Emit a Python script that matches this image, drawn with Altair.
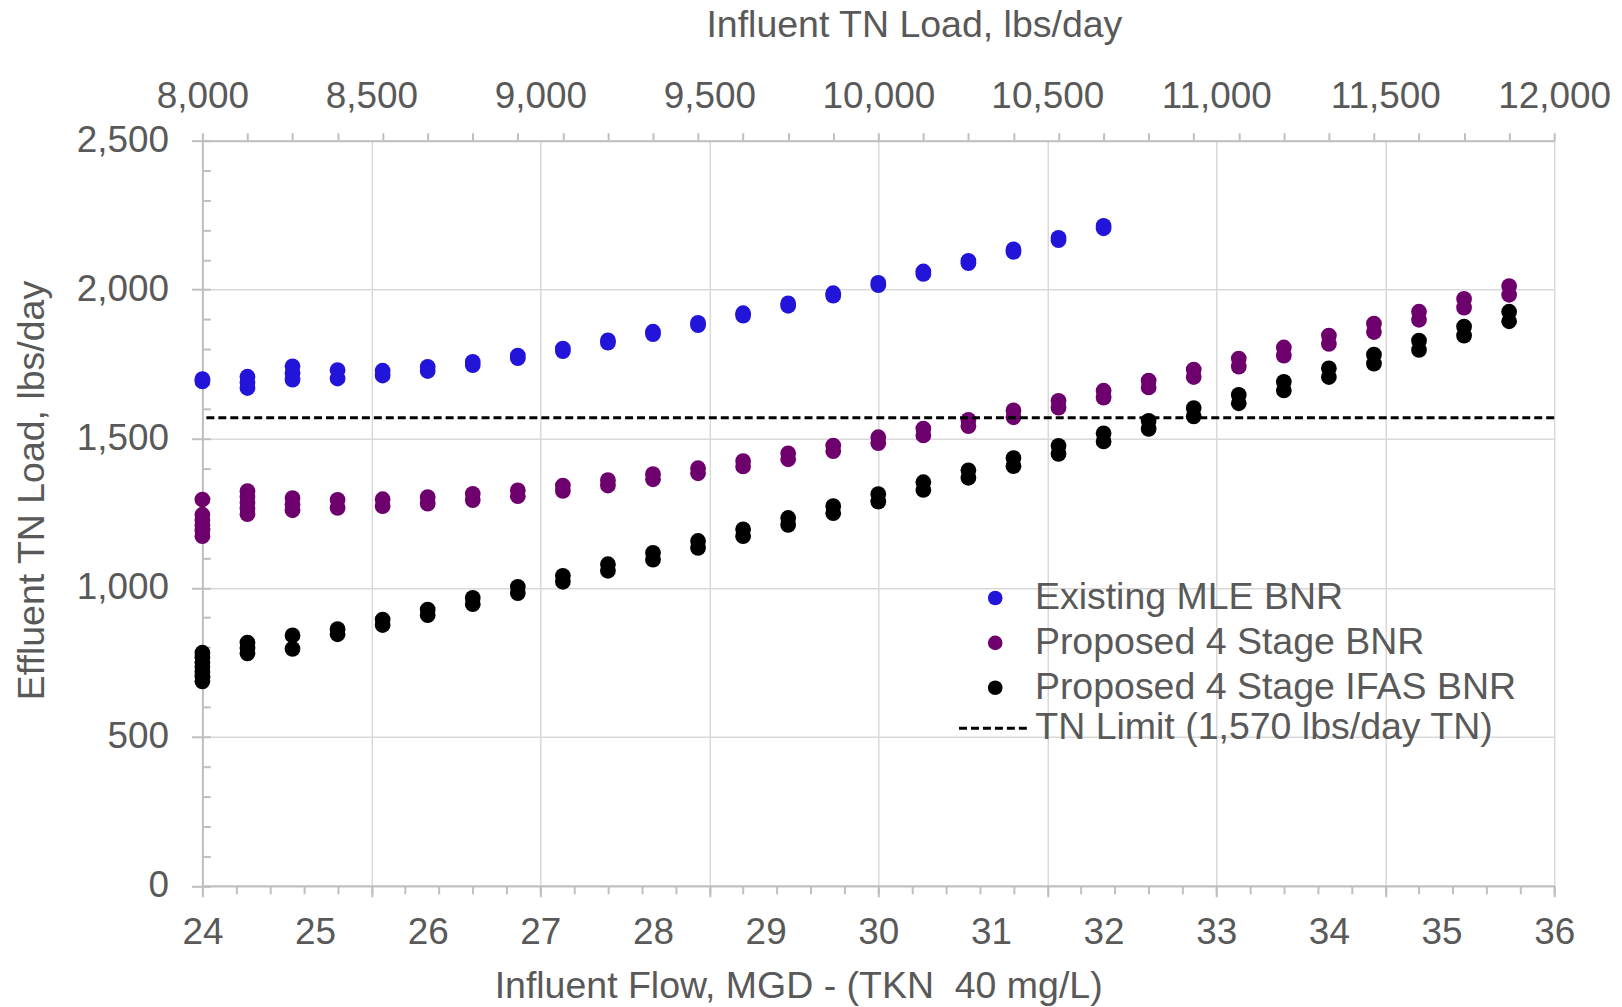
import altair as alt
import pandas as pd

FONT = "Liberation Sans, Arial, Helvetica, sans-serif"
TXT = "#595959"
GRID = "#d9d9d9"
AX = "#bfbfbf"
FS = 37
FS_T = 37.6

series_names = ["Existing MLE BNR", "Proposed 4 Stage BNR", "Proposed 4 Stage IFAS BNR"]
series_colors = ["#2214D8", "#6E006E", "#000000"]
limit_label = "TN Limit (1,570 lbs/day TN)"
limit_value = [1570]

# Existing MLE BNR (influent flow, MGD) with high / low effluent TN readings (lbs/day)
mle_flow = [24.0, 24.4, 24.8, 25.2, 25.6, 26.0, 26.4, 26.8, 27.2, 27.6, 28.0,
            28.4, 28.8, 29.2, 29.6, 30.0, 30.4, 30.8, 31.2, 31.6, 32.0]
mle_hi = [1700, 1708, 1743, 1730, 1728, 1741, 1758, 1779, 1802, 1830, 1859,
          1889, 1921, 1954, 1988, 2023, 2061, 2097, 2135, 2174, 2214]
mle_lo = [1692, 1670, 1698, 1702, 1712, 1727, 1747, 1770, 1794, 1822, 1851,
          1881, 1913, 1946, 1980, 2015, 2053, 2089, 2127, 2166, 2206]
mle_extra_flow = [24.4, 24.8]
mle_extra = [1689, 1720]

# Proposed 4 Stage BNR
bnr4_flow = [24.0, 24.4, 24.8, 25.2, 25.6, 26.0, 26.4, 26.8, 27.2, 27.6, 28.0,
             28.4, 28.8, 29.2, 29.6, 30.0, 30.4, 30.8, 31.2, 31.6, 32.0,
             32.4, 32.8, 33.2, 33.6, 34.0, 34.4, 34.8, 35.2, 35.6]
bnr4_hi = [1296, 1324, 1301, 1295, 1297, 1304, 1315, 1327, 1343, 1361, 1381,
           1401, 1425, 1451, 1477, 1505, 1534, 1563, 1595, 1627, 1661,
           1695, 1732, 1769, 1806, 1846, 1886, 1926, 1969, 2012]
bnr4_lo = [1173, 1247, 1260, 1268, 1274, 1282, 1294, 1307, 1325, 1343, 1364,
           1384, 1407, 1431, 1458, 1485, 1511, 1542, 1572, 1604, 1638,
           1672, 1707, 1742, 1779, 1818, 1858, 1899, 1940, 1983]
bnr4_extra_flow = [24.0, 24.0, 24.0, 24.0, 24.4, 24.4, 24.4, 24.8]
bnr4_extra = [1245, 1227, 1210, 1192, 1305, 1285, 1266, 1280]

# Proposed 4 Stage IFAS BNR
ifas_flow = bnr4_flow
ifas_hi = [782, 816, 840, 861, 893, 927, 966, 1003, 1040, 1079, 1117,
           1157, 1196, 1234, 1274, 1314, 1354, 1394, 1435, 1476, 1518,
           1560, 1603, 1647, 1691, 1736, 1782, 1829, 1876, 1926]
ifas_lo = [686, 780, 795, 844, 875, 908, 945, 982, 1020, 1057, 1094,
           1134, 1173, 1211, 1250, 1289, 1328, 1369, 1408, 1449, 1491,
           1533, 1575, 1619, 1662, 1707, 1752, 1798, 1846, 1894]
ifas_extra_flow = [24.0, 24.0, 24.0, 24.0, 24.0, 24.4]
ifas_extra = [766, 750, 734, 718, 702, 798]

# axis tick / label values
bottom_labels = [24, 25, 26, 27, 28, 29, 30, 31, 32, 33, 34, 35, 36]
top_labels = [8000, 8500, 9000, 9500, 10000, 10500, 11000, 11500, 12000]
top_tick_flows = [round(24 + 0.4 * i, 1) for i in range(31)]
bottom_minor_loads = list(range(8000, 12001, 100))
y_major = [0, 500, 1000, 1500, 2000, 2500]
y_minor = list(range(0, 2501, 100))

x_title = "Influent Flow, MGD - (TKN\u00a0 40 mg/L)"
top_title = "Influent TN Load, lbs/day"
y_title = "Effluent TN Load, lbs/day"

rows = []
for name, fl, hi, lo, ef, ev in [
        (series_names[0], mle_flow, mle_hi, mle_lo, mle_extra_flow, mle_extra),
        (series_names[1], bnr4_flow, bnr4_hi, bnr4_lo, bnr4_extra_flow, bnr4_extra),
        (series_names[2], ifas_flow, ifas_hi, ifas_lo, ifas_extra_flow, ifas_extra)]:
    for f, h, l in zip(fl, hi, lo):
        rows.append({"series": name, "flow": f, "tn": h})
        rows.append({"series": name, "flow": f, "tn": l})
    for f, v in zip(ef, ev):
        rows.append({"series": name, "flow": f, "tn": v})
df = pd.DataFrame(rows)

W, H = 1356, 747.5

def yscale():
    return alt.Scale(domain=[0, 2500], nice=False, zero=True)

def flowscale():
    return alt.Scale(domain=[24, 36], nice=False, zero=False)

def loadscale():
    return alt.Scale(domain=[8000, 12000], nice=False, zero=False)

points = alt.Chart(df).mark_circle(size=250, opacity=1).encode(
    x=alt.X("flow:Q", scale=flowscale(), axis=alt.Axis(
        orient="bottom", values=bottom_labels, format="d", ticks=False, tickSize=0,
        domain=False, grid=False,
        labelBaseline="alphabetic", labelPadding=58, labelFlush=False, labelOverlap=False,
        title=x_title, titleX=597.6, titleY=112, titleBaseline="alphabetic", titleAlign="center")),
    y=alt.Y("tn:Q", scale=yscale(), axis=alt.Axis(
        orient="left", values=y_major, format=",.0f", tickSize=11, domain=True, grid=True,
        labelPadding=23, labelOverlap=False,
        title=y_title, titleX=-159, titleY=350.5, titleAngle=270,
        titleBaseline="alphabetic", titleAlign="center")),
    color=alt.Color("series:N", scale=alt.Scale(domain=series_names, range=series_colors),
                    legend=alt.Legend(title=None, orient="none", legendX=776.5, legendY=440,
                                      padding=0, symbolType="circle", symbolSize=215,
                                      symbolStrokeWidth=0, symbolOpacity=1, labelOffset=21,
                                      rowPadding=6, labelLimit=1000)),
)

top_lab = alt.Chart(pd.DataFrame({"load": top_labels})).mark_point(opacity=0).encode(
    x=alt.X("load:Q", scale=loadscale(), axis=alt.Axis(
        orient="top", values=top_labels, format=",.0f", ticks=False, tickSize=0, domain=False,
        grid=True, labelBaseline="alphabetic", labelPadding=33.5, labelFlush=False,
        labelOverlap=False, title=top_title, titleX=713.7, titleY=-104,
        titleBaseline="alphabetic", titleAlign="center"))
)

top_ticks = alt.Chart(pd.DataFrame({"flow": top_tick_flows})).mark_point(opacity=0).encode(
    x=alt.X("flow:Q", scale=flowscale(), axis=alt.Axis(
        orient="top", values=top_tick_flows, labels=False, ticks=True, tickSize=8,
        domain=True, grid=False, title=None))
)

bot_minor = alt.Chart(pd.DataFrame({"load": bottom_minor_loads})).mark_point(opacity=0).encode(
    x=alt.X("load:Q", scale=loadscale(), axis=alt.Axis(
        orient="bottom", values=bottom_minor_loads, labels=False, ticks=True, tickSize=8,
        domain=True, grid=False, title=None))
)

bot_major = alt.Chart(pd.DataFrame({"load": top_labels})).mark_point(opacity=0).encode(
    x=alt.X("load:Q", scale=loadscale(), axis=alt.Axis(
        orient="bottom", values=top_labels, labels=False, ticks=True, tickSize=11,
        domain=False, grid=False, title=None))
)

y_minor_ticks = alt.Chart(pd.DataFrame({"tn": y_minor})).mark_point(opacity=0).encode(
    y=alt.Y("tn:Q", scale=yscale(), axis=alt.Axis(
        orient="right", offset=-W, values=y_minor, labels=False, ticks=True, tickSize=8,
        domain=False, grid=False, title=None)),
    x=alt.value(0),
)

limit = alt.Chart(pd.DataFrame({"tn": limit_value, "label": [limit_label]})).mark_rule(
    strokeWidth=3, color="black").encode(
    y=alt.Y("tn:Q", scale=yscale(), axis=None),
    strokeDash=alt.StrokeDash("label:N", scale=alt.Scale(domain=[limit_label], range=[[8, 4]]),
                              legend=alt.Legend(title=None, orient="none", legendX=757.5,
                                                legendY=553, padding=0, symbolType="stroke",
                                                symbolSize=4900, symbolStrokeWidth=3,
                                                symbolStrokeColor="black", labelOffset=5,
                                                labelLimit=1000)),
)

chart = alt.layer(top_lab, top_ticks, bot_minor, bot_major, y_minor_ticks, points, limit).resolve_scale(
    x="independent", y="independent"
).properties(
    width=W, height=H,
    padding={"left": 195, "top": 131.5, "right": 60, "bottom": 120},
    autosize=alt.AutoSizeParams(type="none"),
).configure_view(stroke=None).configure_axis(
    labelFont=FONT, titleFont=FONT, labelColor=TXT, titleColor=TXT,
    labelFontSize=FS, titleFontSize=FS_T, titleFontWeight="normal",
    tickColor=AX, domainColor=AX, gridColor=GRID, tickWidth=2, domainWidth=2, gridWidth=1.5,
).configure_legend(
    labelFont=FONT, labelFontSize=FS_T, labelColor=TXT,
)

chart.save("out.html", embed_options={"renderer": "svg", "actions": False})
